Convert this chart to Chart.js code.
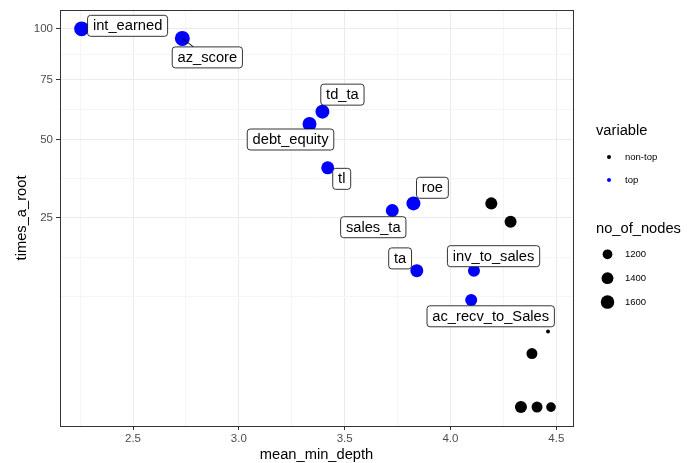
<!DOCTYPE html>
<html>
<head>
<meta charset="utf-8">
<script src="https://cdn.jsdelivr.net/npm/chart.js@4.4.1/dist/chart.umd.min.js"></script>
<style>
  html, body { margin: 0; padding: 0; background: #fff; }
  #wrap { width: 696px; height: 463px; }
</style>
</head>
<body>
<div id="wrap"><canvas id="chart" width="696" height="463"></canvas></div>
<script>
// variables flagged as "top"
const topNames = ['int_earned', 'az_score', 'td_ta', 'debt_equity', 'tl', 'roe', 'sales_ta', 'ta', 'inv_to_sales', 'ac_recv_to_Sales'];
const topDepth = [2.257, 2.733, 3.395, 3.334, 3.420, 3.825, 3.725, 3.841, 4.111, 4.098];
const topTimes = [100, 95, 61, 56, 40, 29, 27, 13, 13, 8];
const topNodes = [1780, 1800, 1660, 1660, 1530, 1660, 1530, 1530, 1420, 1420];

// the rest ("non-top")
const otherDepth = [4.193, 4.284, 4.461, 4.385, 4.333, 4.409, 4.475];
const otherTimes = [29, 24, 4, 2, 0, 0, 0];
const otherNodes = [1420, 1420, 910, 1310, 1420, 1310, 1190];

// axes
const xTicks = [2.5, 3.0, 3.5, 4.0, 4.5];
const yTicks = [25, 50, 75, 100];
const sizeBreaks = [1200, 1400, 1600];

// where each label box sits relative to its point (px), like ggrepel put them
const labelOffsets = [[46, -3], [25, 19], [20, -17], [-19, 15.5], [14, 11], [19, -15.6], [-19, 16.7], [-16.7, -12.3], [19.6, -14.5], [19.5, 16.2]];

const FONT = '"Liberation Sans", Arial, Helvetica, sans-serif';
const X_MIN = 2.155, X_MAX = 4.579;
const Y_MIN = -0.5, Y_MAX = 10.5; // sqrt scale

// size scale (area-ish) for no_of_nodes
function sizeOf(n) {
  return 1.3 + 6.2 * Math.sqrt(Math.max(0, n - 900) / 900);
}

// ggplot style minor breaks: midpoints between majors, one step extended
function minorBreaks(majors, min, max) {
  const b = majors.slice();
  b.unshift(b[0] - (b[1] - b[0]));
  b.push(b[b.length - 1] + (b[b.length - 1] - b[b.length - 2]));
  const out = [];
  for (let i = 0; i < b.length; i++) {
    if (i === 0 || i === b.length - 1) out.push(b[i]);
    if (i < b.length - 1) out.push((b[i] + b[i + 1]) / 2);
  }
  return out.filter(v => v >= min && v <= max);
}

const yMajor = yTicks.map(Math.sqrt);
const xAll = xTicks.map(v => ({ value: v, major: true }))
  .concat(minorBreaks(xTicks, X_MIN, X_MAX).map(v => ({ value: v, major: false })))
  .sort((a, b) => a.value - b.value);
const yAll = yMajor.map(v => ({ value: v, major: true }))
  .concat(minorBreaks(yMajor, Y_MIN, Y_MAX).map(v => ({ value: v, major: false })))
  .sort((a, b) => a.value - b.value);

function isMajor(list, v) {
  return list.some(m => Math.abs(m - v) < 1e-6);
}

const gridColor = (list) => (c) => (c.tick && isMajor(list, c.tick.value)) ? '#EBEBEB' : '#F5F5F5';
const tickMarkColor = (list) => (c) => (c.tick && isMajor(list, c.tick.value)) ? '#333333' : 'rgba(0,0,0,0)';

const labelPlugin = {
  id: 'repelLabels',
  afterDatasetsDraw(chart) {
    const ctx = chart.ctx;
    const meta = chart.getDatasetMeta(1);
    ctx.save();
    ctx.font = '14.7px ' + FONT;
    ctx.textAlign = 'center';
    ctx.textBaseline = 'middle';
    meta.data.forEach((pt, i) => {
      const w = ctx.measureText(topNames[i]).width + 10.6;
      const h = 21;
      const cx = pt.x + labelOffsets[i][0];
      const cy = pt.y + labelOffsets[i][1];
      // segment from point towards box
      const dx = cx - pt.x, dy = cy - pt.y;
      const tx = Math.abs(dx) > 0 ? 1 - w / 2 / Math.abs(dx) : -1;
      const ty = Math.abs(dy) > 0 ? 1 - h / 2 / Math.abs(dy) : -1;
      const t = Math.max(0, tx, ty);
      const len = t * Math.hypot(dx, dy);
      const r = sizeOf(topNodes[i]);
      if (len - r > 5) {
        ctx.beginPath();
        ctx.moveTo(pt.x, pt.y);
        ctx.lineTo(pt.x + t * dx, pt.y + t * dy);
        ctx.strokeStyle = '#000';
        ctx.lineWidth = 1;
        ctx.stroke();
      }
      ctx.beginPath();
      ctx.roundRect(cx - w / 2, cy - h / 2, w, h, 3);
      ctx.fillStyle = '#fff';
      ctx.fill();
      ctx.strokeStyle = '#000';
      ctx.lineWidth = 0.8;
      ctx.stroke();
      ctx.fillStyle = '#000';
      ctx.fillText(topNames[i], cx, cy + 0.5);
    });
    ctx.restore();
  }
};

const framePlugin = {
  id: 'frame',
  afterDraw(chart) {
    const ctx = chart.ctx;
    const a = chart.chartArea;
    ctx.save();
    // panel border
    ctx.strokeStyle = '#333333';
    ctx.lineWidth = 1;
    ctx.strokeRect(Math.round(a.left) + 0.5, Math.round(a.top) + 0.5, Math.round(a.right - a.left), Math.round(a.bottom - a.top));

    // axis titles
    ctx.fillStyle = '#000';
    ctx.font = '14.7px ' + FONT;
    ctx.textAlign = 'center';
    ctx.textBaseline = 'middle';
    ctx.fillText('mean_min_depth', (a.left + a.right) / 2, 455);
    ctx.save();
    ctx.translate(22, (a.top + a.bottom) / 2);
    ctx.rotate(-Math.PI / 2);
    ctx.fillText('times_a_root', 0, 0);
    ctx.restore();

    // legends
    const lx = 596;
    ctx.textAlign = 'left';
    ctx.font = '14.7px ' + FONT;
    ctx.fillText('variable', lx, 131);
    ctx.font = '9.5px ' + FONT;
    [['non-top', '#000000', 157], ['top', '#0000FF', 180]].forEach(([txt, col, y]) => {
      ctx.beginPath();
      ctx.arc(609, y, 2, 0, Math.PI * 2);
      ctx.fillStyle = col;
      ctx.fill();
      ctx.fillStyle = '#000';
      ctx.fillText(txt, 625, y);
    });
    ctx.font = '14.7px ' + FONT;
    ctx.fillText('no_of_nodes', lx, 229);
    ctx.font = '9.5px ' + FONT;
    sizeBreaks.forEach((n, i) => {
      const y = 254.3 + i * 23.9;
      ctx.beginPath();
      ctx.arc(607.5, y, sizeOf(n), 0, Math.PI * 2);
      ctx.fillStyle = '#000';
      ctx.fill();
      ctx.fillText(String(n), 625, y);
    });
    ctx.restore();
  }
};

const ctx = document.getElementById('chart').getContext('2d');
new Chart(ctx, {
  type: 'scatter',
  data: {
    datasets: [{
      label: 'non-top',
      data: otherDepth.map((d, i) => ({ x: d, y: Math.sqrt(otherTimes[i]) })),
      backgroundColor: '#000000',
      borderWidth: 0,
      pointRadius: otherNodes.map(sizeOf),
      pointHoverRadius: otherNodes.map(sizeOf)
    }, {
      label: 'top',
      data: topDepth.map((d, i) => ({ x: d, y: Math.sqrt(topTimes[i]) })),
      backgroundColor: '#0000FF',
      borderWidth: 0,
      pointRadius: topNodes.map(sizeOf),
      pointHoverRadius: topNodes.map(sizeOf)
    }]
  },
  options: {
    responsive: false,
    animation: false,
    devicePixelRatio: 1,
    layout: { padding: { top: 9, right: 123, left: 0, bottom: 0 } },
    plugins: {
      legend: { display: false },
      tooltip: { enabled: false }
    },
    scales: {
      x: {
        type: 'linear',
        min: X_MIN,
        max: X_MAX,
        afterBuildTicks: (axis) => { axis.ticks = xAll.map(t => ({ value: t.value })); },
        afterFit: (axis) => { axis.height = 37; },
        border: { display: false },
        grid: {
          color: gridColor(xTicks),
          tickColor: tickMarkColor(xTicks),
          tickLength: 4,
          lineWidth: 1
        },
        ticks: {
          autoSkip: false,
          maxRotation: 0,
          padding: 2,
          color: '#4D4D4D',
          font: { family: FONT, size: 11.5 },
          callback: (v) => isMajor(xTicks, v) ? v.toFixed(1) : ''
        }
      },
      y: {
        type: 'linear',
        min: Y_MIN,
        max: Y_MAX,
        afterBuildTicks: (axis) => { axis.ticks = yAll.map(t => ({ value: t.value })); },
        afterFit: (axis) => { axis.width = 60; },
        border: { display: false },
        grid: {
          color: gridColor(yMajor),
          tickColor: tickMarkColor(yMajor),
          tickLength: 4,
          lineWidth: 1
        },
        ticks: {
          autoSkip: false,
          padding: 3,
          color: '#4D4D4D',
          font: { family: FONT, size: 11.5 },
          callback: (v) => isMajor(yMajor, v) ? String(Math.round(v * v)) : ''
        }
      }
    }
  },
  plugins: [labelPlugin, framePlugin]
});
</script>
</body>
</html>
